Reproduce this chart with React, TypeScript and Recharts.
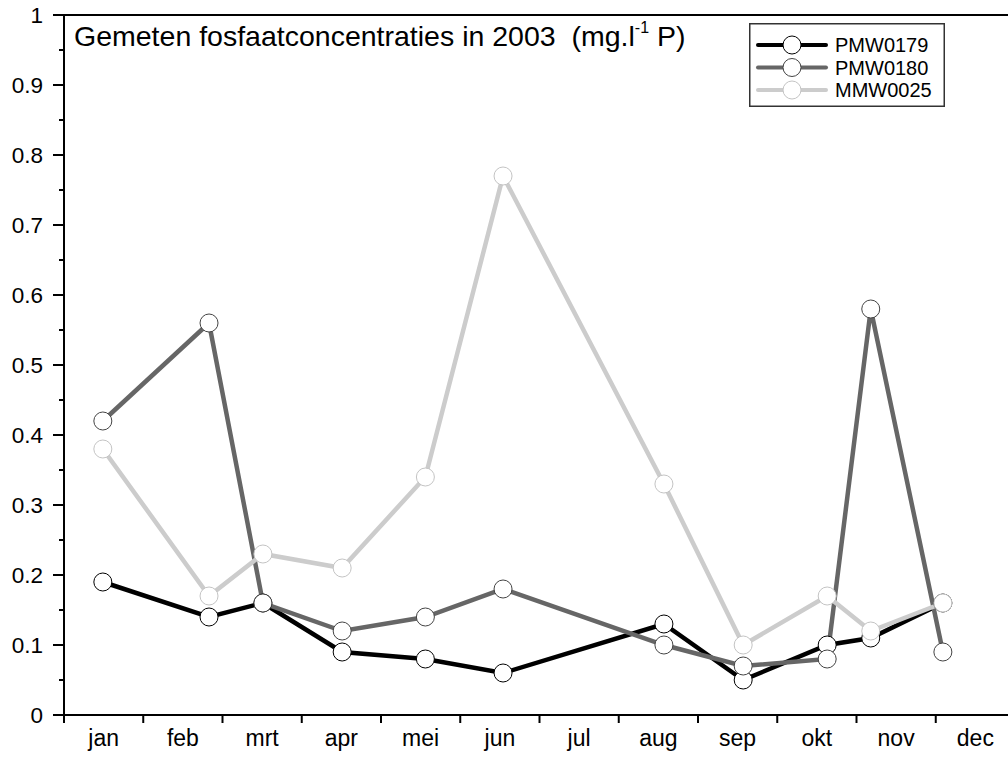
import React from "react";
import { LineChart, Line, XAxis, YAxis, Legend, ReferenceLine } from "recharts";

// sampling moments, in months from 1 january (each month drawn equally wide)
const sampleMonth = [0.49, 1.83, 2.51, 3.51, 4.56, 5.54, 7.57, 8.57, 9.63, 10.18, 11.09];
const pmw0179 = [0.19, 0.14, 0.16, 0.09, 0.08, 0.06, 0.13, 0.05, 0.1, 0.11, 0.16];
const pmw0180 = [0.42, 0.56, 0.16, 0.12, 0.14, 0.18, 0.1, 0.07, 0.08, 0.58, 0.09];
const mmw0025 = [0.38, 0.17, 0.23, 0.21, 0.34, 0.77, 0.33, 0.1, 0.17, 0.12, 0.16];
const monthLabels = ["jan", "feb", "mrt", "apr", "mei", "jun", "jul", "aug", "sep", "okt", "nov", "dec"];

const FONT = "'Liberation Sans', Arial, Helvetica, sans-serif";

const series = [
  { key: "PMW0179", line: "#000000", dot: "#000000" },
  { key: "PMW0180", line: "#666666", dot: "#444444" },
  { key: "MMW0025", line: "#cccccc", dot: "#c4c4c4" },
];

const rows = sampleMonth.map((m, i) => ({
  m,
  PMW0179: pmw0179[i],
  PMW0180: pmw0180[i],
  MMW0025: mmw0025[i],
}));

const xTicks = Array.from({ length: 25 }, (_, i) => i / 2);
const yTicks = Array.from({ length: 21 }, (_, i) => i / 20);

function MonthTick(props: any) {
  const { x, y, payload } = props;
  const v = payload.value;
  if (Number.isInteger(v)) {
    return <line x1={x} y1={y} x2={x} y2={y + 8} stroke="#000" strokeWidth={2} />;
  }
  return (
    <text x={x} y={y + 31} textAnchor="middle" fontSize={23} fontFamily={FONT} fill="#000">
      {monthLabels[Math.floor(v)]}
    </text>
  );
}

function ValueTick(props: any) {
  const { x, y, payload } = props;
  const v = payload.value;
  const major = Math.abs(v * 10 - Math.round(v * 10)) < 1e-6;
  return (
    <g>
      <line x1={x - (major ? 11 : 5)} y1={y} x2={x} y2={y} stroke="#000" strokeWidth={2} />
      {major && (
        <text x={x - 21} y={y + 8} textAnchor="end" fontSize={22.5} fontFamily={FONT} fill="#000">
          {String(Number(v.toFixed(1)))}
        </text>
      )}
    </g>
  );
}

function LegendBox() {
  return (
    <svg width={196} height={84} style={{ display: "block" }}>
      <rect x={0.75} y={0.75} width={194.5} height={82.5} fill="#fff" stroke="#333" strokeWidth={1.5} />
      {series.map((s, i) => {
        const cy = 22 + i * 22.5;
        return (
          <g key={s.key}>
            <line x1={9} y1={cy} x2={77} y2={cy} stroke={s.line} strokeWidth={4} strokeLinecap="round" />
            <circle cx={43} cy={cy} r={9} fill="#fff" stroke={s.dot} strokeWidth={1} />
            <text x={86} y={cy + 7} fontSize={20} fontFamily={FONT} fill="#000">
              {s.key}
            </text>
          </g>
        );
      })}
    </svg>
  );
}

export default function App() {
  return (
    <div
      style={{
        position: "absolute",
        left: 0,
        top: 0,
        width: 1008,
        height: 758,
        overflow: "hidden",
        background: "#fff",
      }}
    >
      <LineChart width={1020} height={758} data={rows} margin={{ top: 15, right: 5, bottom: 0, left: 0 }}>
        <XAxis
          dataKey="m"
          type="number"
          domain={[0, 12]}
          ticks={xTicks}
          interval={0}
          height={43}
          tickSize={0}
          tickMargin={0}
          tickLine={false}
          tick={<MonthTick />}
          axisLine={{ stroke: "#000", strokeWidth: 2 }}
        />
        <YAxis
          type="number"
          domain={[0, 1]}
          ticks={yTicks}
          interval={0}
          width={64}
          tickSize={0}
          tickMargin={0}
          tickLine={false}
          tick={<ValueTick />}
          axisLine={{ stroke: "#000", strokeWidth: 2 }}
        />
        <ReferenceLine y={1} stroke="#000" strokeWidth={2} />
        <ReferenceLine x={12} stroke="#000" strokeWidth={2} />
        {series.map((s) => (
          <Line
            key={s.key}
            type="linear"
            dataKey={s.key}
            stroke={s.line}
            strokeWidth={4.5}
            dot={{ r: 9, fill: "#fff", stroke: s.dot, strokeWidth: 1 }}
            activeDot={false}
            isAnimationActive={false}
          />
        ))}
        <Legend
          layout="vertical"
          align="center"
          verticalAlign="middle"
          content={() => <LegendBox />}
          wrapperStyle={{ position: "absolute", left: 749, top: 23, width: 196, height: 84, margin: 0 }}
        />
      </LineChart>
      <div
        style={{
          position: "absolute",
          left: 74,
          top: 22,
          fontFamily: FONT,
          fontSize: 28.5,
          lineHeight: "28px",
          whiteSpace: "pre",
          color: "#000",
        }}
      >
        {"Gemeten fosfaatconcentraties in 2003  (mg.l"}
        <sup style={{ fontSize: 16, verticalAlign: "top", lineHeight: "16px", position: "relative", top: -2 }}>-1</sup>
        {" P)"}
      </div>
    </div>
  );
}
